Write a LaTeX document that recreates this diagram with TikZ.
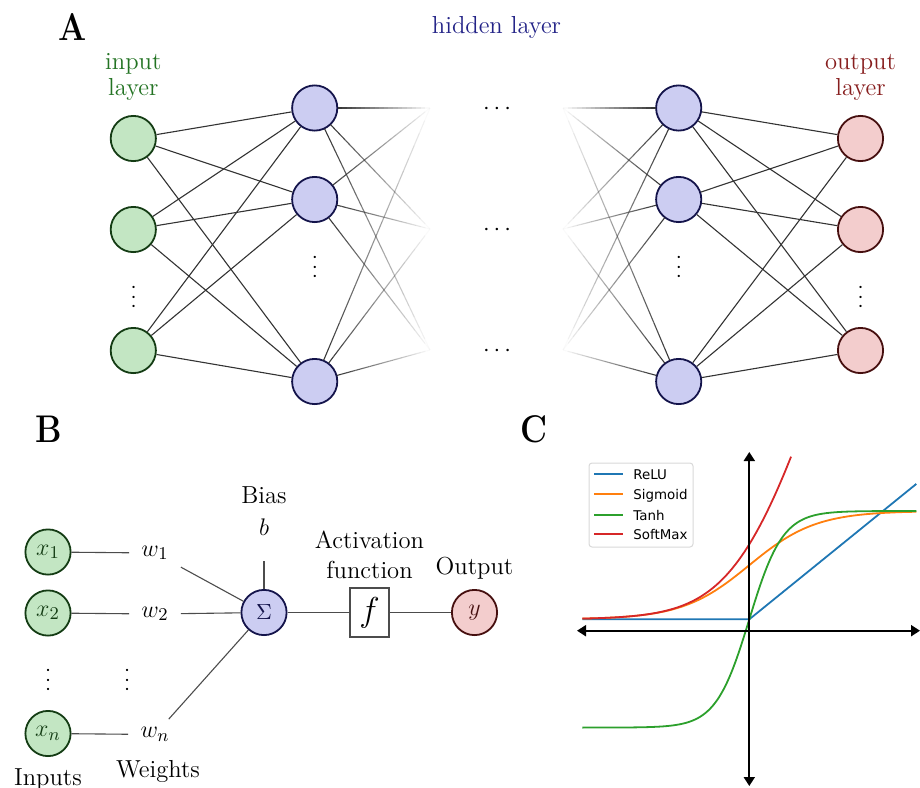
\documentclass[tikz,border=0pt]{standalone}
\usepackage{fontspec}
\newfontfamily\legfont{DejaVu Sans}
\usetikzlibrary{calc,arrows.meta}
\definecolor{ingreen}{RGB}{195,230,195}
\definecolor{inborder}{RGB}{20,60,20}
\definecolor{intext}{RGB}{35,115,35}
\definecolor{hidblue}{RGB}{204,205,242}
\definecolor{hidborder}{RGB}{20,20,75}
\definecolor{hidtext}{RGB}{35,35,135}
\definecolor{outred}{RGB}{243,205,205}
\definecolor{outborder}{RGB}{70,15,15}
\definecolor{outtext}{RGB}{135,30,30}
\definecolor{mplblue}{HTML}{1F77B4}
\definecolor{mplorange}{HTML}{FF7F0E}
\definecolor{mplgreen}{HTML}{2CA02C}
\definecolor{mplred}{HTML}{D62728}
\newcommand{\lblfont}{\fontsize{12.3}{14}\selectfont}
\newcommand{\fadeedge}[2]{%
  \path ($(#1)!11.5pt!(#2)$) coordinate (fs);
  \foreach \k in {0,...,19}{%
    \pgfmathsetmacro{\ta}{\k/20}%
    \pgfmathsetmacro{\tb}{(\k+1)/20}%
    \pgfmathsetmacro{\op}{1-(\k+0.5)/20}%
    \draw[conn, opacity=\op] ($(fs)!\ta!(#2)$) -- ($(fs)!\tb!(#2)$);
  }}
\begin{document}
\begin{tikzpicture}[x=0.5pt,y=-0.5pt,
  neuron/.style={circle, line width=0.9pt, minimum size=22.6pt, inner sep=0pt, font=\lblfont},
  inN/.style={neuron, fill=ingreen, draw=inborder, text=inborder},
  hidN/.style={neuron, fill=hidblue, draw=hidborder, text=hidborder},
  outN/.style={neuron, fill=outred, draw=outborder, text=outborder},
  conn/.style={draw=black!80, line width=0.55pt},
  bconn/.style={draw=black!70, line width=0.55pt},
  lbl/.style={font=\lblfont, inner sep=0pt, anchor=base},
  panel/.style={font=\fontsize{19.3}{23}\selectfont\bfseries, xscale=0.86, inner sep=0pt, anchor=base},
  vdotsn/.style={font=\fontsize{11.3}{13}\selectfont, inner sep=0pt, anchor=base, rotate=90},
  wlab/.style={font=\lblfont, inner xsep=6pt, inner ysep=4pt},
  fboxn/.style={draw=black!70, line width=0.55pt, minimum width=19.5pt, minimum height=24.5pt, inner sep=0pt, font=\fontsize{19}{23}\selectfont},
  curve/.style={line width=0.9pt},
  plotaxis/.style={line width=1pt, black, {Triangle[length=4.5pt,width=5.5pt]}-{Triangle[length=4.5pt,width=5.5pt]}},
  legtext/.style={font=\legfont\fontsize{6.7}{8}\selectfont, inner sep=0pt, anchor=base west}
]
\useasboundingbox (0,0) rectangle (920,787);

%% ---------------- Panel A ----------------
\node[panel] (labA) at (72.5,40) {A};
\node[lbl, text=hidtext] (hidlab) at (496.5,33.5) {hidden layer};
\node[lbl, text=intext] (inlab1) at (133.3,69) {input};
\node[lbl, text=intext] (inlab2) at (133.3,95) {layer};
\node[lbl, text=outtext] (outlab1) at (860.5,69) {output};
\node[lbl, text=outtext] (outlab2) at (860.5,95) {layer};

\node[inN] (i1) at (133.3,138.5) {};
\node[inN] (i2) at (133.3,229.5) {};
\node[inN] (i3) at (133.3,350.5) {};
\node[hidN] (h1) at (314.7,108) {};
\node[hidN] (h2) at (314.7,199.5) {};
\node[hidN] (h3) at (314.7,381.5) {};
\node[hidN] (k1) at (678.7,108) {};
\node[hidN] (k2) at (678.7,199.5) {};
\node[hidN] (k3) at (678.7,381.5) {};
\node[outN] (o1) at (860.5,138.5) {};
\node[outN] (o2) at (860.5,229.5) {};
\node[outN] (o3) at (860.5,350.5) {};

\node[vdotsn] (vi) at (139,297) {$\cdots$};
\node[vdotsn] (vh) at (320.4,267) {$\cdots$};
\node[vdotsn] (vk) at (684.4,267) {$\cdots$};
\node[vdotsn] (vo) at (866.2,297) {$\cdots$};

\node[lbl] (c1) at (497,114.2) {$\cdots$};
\node[lbl] (c2) at (497,235.2) {$\cdots$};
\node[lbl] (c3) at (497,356.2) {$\cdots$};

\coordinate (fl1) at (430,108);
\coordinate (fl2) at (430,229);
\coordinate (fl3) at (430,350);
\coordinate (fr1) at (563,108);
\coordinate (fr2) at (563,229);
\coordinate (fr3) at (563,350);

\foreach \a in {i1,i2,i3}{\foreach \b in {h1,h2,h3}{\draw[conn] (\a) -- (\b);}}
\foreach \a in {k1,k2,k3}{\foreach \b in {o1,o2,o3}{\draw[conn] (\a) -- (\b);}}
\foreach \a in {h1,h2,h3}{\foreach \b in {fl1,fl2,fl3}{\fadeedge{\a}{\b}}}
\foreach \a in {k1,k2,k3}{\foreach \b in {fr1,fr2,fr3}{\fadeedge{\a}{\b}}}

%% ---------------- Panel B ----------------
\node[panel] (labB) at (48.5,442) {B};
\node[inN] (x1) at (48,552) {$x_1$};
\node[inN] (x2) at (48,613) {$x_2$};
\node[inN] (xn) at (48,733.5) {$x_n$};
\node[wlab] (w1) at (155,553) {$w_1$};
\node[wlab] (w2) at (155,614) {$w_2$};
\node[wlab] (wn) at (155,734.5) {$w_n$};
\node[vdotsn] (vx) at (53.7,680) {$\cdots$};
\node[vdotsn] (vw) at (132.7,680) {$\cdots$};
\node[hidN, font=\fontsize{10.5}{12}\selectfont] (sig) at (264,612.5) {$\Sigma$};
\node[fboxn] (fbox) at (369.5,612.5) {$f$};
\node[outN] (yout) at (474.5,612.5) {$y$};
\node[lbl] (biaslab) at (264,503.5) {Bias};
\node[lbl] (blab) at (264,535) {$b$};
\coordinate (bias) at (264,561);
\node[lbl] (act1) at (369.5,548.5) {Activation};
\node[lbl] (act2) at (369.5,578.5) {function};
\node[lbl] (outputlab) at (474.5,574) {Output};
\node[lbl] (inputslab) at (48,785) {Inputs};
\node[lbl] (weightslab) at (158,777) {Weights};

\draw[bconn] (x1) -- (w1);
\draw[bconn] (x2) -- (w2);
\draw[bconn] (xn) -- (wn);
\draw[bconn] (w1) -- (sig);
\draw[bconn] (w2) -- (sig);
\draw[bconn] (wn) -- (sig);
\draw[bconn] (bias) -- (sig);
\draw[bconn] (sig) -- (fbox);
\draw[bconn] (fbox) -- (yout);

%% ---------------- Panel C ----------------
\node[panel] (labC) at (533.5,442) {C};
\begin{scope}[shift={(749.3,619.3)}, xscale=33.4, yscale=-108.3]
  \draw[curve, mplblue] (-5,0) -- (0,0) -- (5,1.25);
  \draw[curve, mplorange] plot[domain=-5:5, samples=120, smooth] (\x,{1/(1+exp(-\x))});
  \draw[curve, mplgreen] plot[domain=-5:5, samples=160, smooth] (\x,{tanh(\x)});
  \draw[curve, mplred] plot[domain=-5:1.25, samples=100, smooth] (\x,{ln(1+exp(\x))});
\end{scope}
\coordinate (xl) at (577,630.7);
\coordinate (xr) at (920,630.7);
\coordinate (yt) at (749.3,452);
\coordinate (yb) at (749.3,786);
\draw[plotaxis] (xl) -- (xr);
\draw[plotaxis] (yb) -- (yt);

\draw[rounded corners=1.5pt, draw=black!15, fill=white, fill opacity=0.85, line width=0.5pt] (589,463) rectangle (693,547);
\draw[curve, mplblue] (594,474.3) -- (623,474.3);
\draw[curve, mplorange] (594,494.3) -- (623,494.3);
\draw[curve, mplgreen] (594,515) -- (623,515);
\draw[curve, mplred] (594,534.3) -- (623,534.3);
\node[legtext] (lg1) at (633,479.8) {ReLU};
\node[legtext] (lg2) at (633,499.8) {Sigmoid};
\node[legtext] (lg3) at (633,520.5) {Tanh};
\node[legtext] (lg4) at (633,539.8) {SoftMax};
\end{tikzpicture}
\end{document}
